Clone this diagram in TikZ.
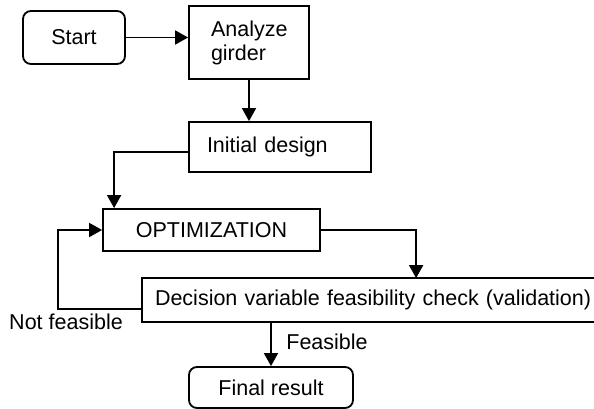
\documentclass[tikz,border=0pt]{standalone}
\usepackage{fontspec}
\setmainfont{Liberation Sans}
\usepackage{tikz}
\usetikzlibrary{arrows.meta,calc}
\tikzstyle{stepbox} = [draw=black, line width=1.8pt, inner sep=0pt, font=\fontsize{21.5}{24}\selectfont]
\tikzstyle{termbox} = [stepbox, rounded corners=8pt]
\tikzstyle{lbl} = [inner sep=0pt, font=\fontsize{21.5}{24}\selectfont]
\tikzstyle{link} = [draw=black, line width=1.8pt, -{Triangle[length=13pt,width=14pt]}]

\begin{document}
\begin{tikzpicture}[x=1pt, y=-1pt]
  \useasboundingbox (0,0) rectangle (594,409);
  \clip (0,0) rectangle (594,409);

  \node[termbox, minimum width=102pt, minimum height=53pt] (start) at (74,37.5) {Start};
  \node[stepbox, minimum width=120pt, minimum height=73pt, text width=76pt, inner xsep=22pt, align=left] (analyze) at (249,42.5) {Analyze\\girder};
  \node[stepbox, minimum width=182pt, minimum height=50pt, text width=146pt, inner xsep=18pt, align=left] (init) at (280,147) {Initial design};
  \node[stepbox, minimum width=217pt, minimum height=42pt] (opt) at (211.5,230) {OPTIMIZATION};
  \node[stepbox, draw=none, minimum width=480pt, minimum height=42pt, text width=456pt, inner xsep=12pt, align=left] (dec) at (383,300) {Decision variable feasibility check (validation)};
  \draw[line width=1.8pt] (dec.north east) -- (dec.north west) -- (dec.south west) -- (dec.south east);
  \node[termbox, minimum width=164pt, minimum height=41pt] (final) at (271,387.5) {Final result};

  \node[lbl] (nf) at (66,322) {Not feasible};
  \node[lbl] (fs) at (327,342) {Feasible};

  \draw[link] (start.east) -- (analyze.west |- start.east);
  \draw[link] (analyze.south) -- (analyze.south |- init.north);
  \draw[link] ($(init.west)+(0,5)$) -| ($(opt.north west)+(12,0)$);
  \draw[link] (opt.east) -| ($(dec.north west)+(274,0)$);
  \draw[link] ($(dec.west)+(0,9)$) -- ++(-84,0) |- (opt.west);
  \draw[link] (dec.south -| final.north) -- (final.north);

\end{tikzpicture}
\end{document}
